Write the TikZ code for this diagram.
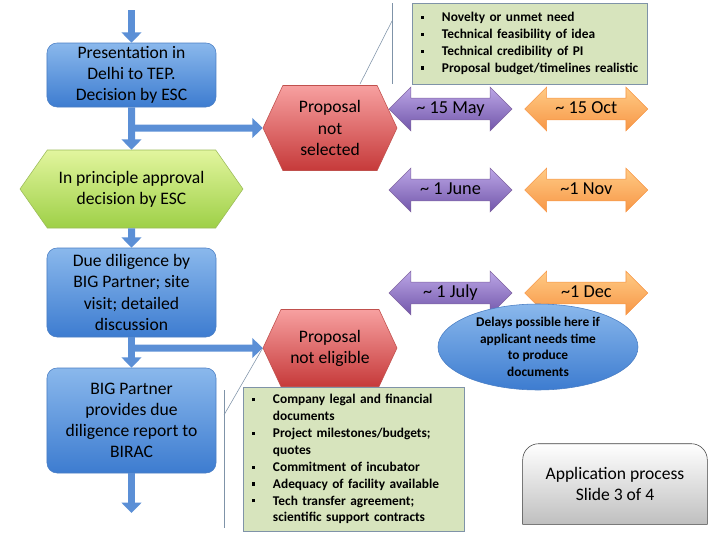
\documentclass[tikz,border=0pt]{standalone}
\usepackage{fontspec}
\setmainfont{Carlito}
\usetikzlibrary{
  arrows.meta, positioning, shapes.geometric, shapes.symbols,
  shapes.arrows, backgrounds
}
\definecolor{boxtop}{HTML}{8AB8EC}
\definecolor{boxbot}{HTML}{3D7CD0}
\definecolor{boxline}{HTML}{4A7EC4}
\definecolor{oktop}{HTML}{E2F59E}
\definecolor{okbot}{HTML}{9ED047}
\definecolor{okline}{HTML}{9BBB59}
\definecolor{notop}{HTML}{F7A0A0}
\definecolor{nobot}{HTML}{C63A3A}
\definecolor{noline}{HTML}{C0504D}
\definecolor{purtop}{HTML}{BBA6E6}
\definecolor{purbot}{HTML}{7256AA}
\definecolor{purline}{HTML}{8064A2}
\definecolor{orgtop}{HTML}{FFCB85}
\definecolor{orgbot}{HTML}{F79646}
\definecolor{notefill}{HTML}{D7E4BD}
\definecolor{noteline}{HTML}{7F93A8}
\definecolor{arrowblue}{HTML}{5B8FD6}
\newcommand\sqbul{\rule[0.2em]{2.2pt}{2.2pt}}

\begin{document}
\begin{tikzpicture}[x=0.25mm, y=-0.25mm,
    stage/.style={draw=boxline, rounded corners=2.5mm,
                  top color=boxtop, bottom color=boxbot,
                  minimum width=42.25mm, inner sep=1pt, align=center,
                  font=\fontsize{12.5}{15}\selectfont},
    hexa/.style={signal, signal to=east and west, inner sep=1pt,
                 align=center, font=\fontsize{12.5}{15}\selectfont},
    approve/.style={hexa, signal pointer angle=110, draw=okline,
                    top color=oktop, bottom color=okbot,
                    minimum width=55.75mm, minimum height=19.5mm},
    reject/.style={hexa, signal pointer angle=130, draw=noline,
                   top color=notop, bottom color=nobot,
                   minimum width=33.5mm},
    datearrow/.style={double arrow, double arrow head extend=2.75mm,
                      minimum height=30.75mm, inner xsep=1pt, inner ysep=1.25pt,
                      text height=9.5pt, text depth=3pt,
                      font=\fontsize{13}{15}\selectfont},
    early/.style={datearrow, draw=purline, top color=purtop, bottom color=purbot},
    late/.style={datearrow, draw=orgbot, top color=orgtop, bottom color=orgbot},
    note/.style={draw=noteline, fill=notefill, align=left, inner xsep=2.25mm,
                 font=\fontsize{9.5}{12}\selectfont\bfseries},
    barrow/.style={draw=arrowblue, line width=1.75mm,
                   -{Triangle[length=2.6mm, width=4.9mm]}},
    callout/.style={draw=noteline, thin}
  ]
  \useasboundingbox (0,0) rectangle (720,540);

  % main flow
  \node[stage, minimum height=16mm]    (pres)    at (131.5,75)
    {Presentation in\\Delhi to TEP.\\Decision by ESC};
  \node[approve]                       (approve) at (131.5,189)
    {In principle approval\\decision by ESC};
  \node[stage, minimum height=22.25mm] (dd)      at (131.5,292.5)
    {Due diligence by\\BIG Partner; site\\visit; detailed\\discussion};
  \node[stage, minimum height=26.25mm] (report)  at (131.5,420.5)
    {BIG Partner\\provides due\\diligence report to\\BIRAC};
  \coordinate (start)  at (131.5,10);
  \coordinate (finish) at (131.5,513);

  % rejections
  \node[reject, minimum height=21.25mm] (nsel)  at (330,128)
    {Proposal\\not\\selected};
  \node[reject, minimum height=19.25mm] (nelig) at (330,348)
    {Proposal\\not eligible};

  % timelines
  \node[early] (may)  at (450.5,109) {\textasciitilde{} 15 May};
  \node[late, right=3mm of may]  (oct) {\textasciitilde{} 15 Oct};
  \node[early] (june) at (450.5,190) {\textasciitilde{} 1 June};
  \node[late, right=3mm of june] (nov) {\textasciitilde{}1 Nov};
  \node[early] (july) at (450.5,293) {\textasciitilde{} 1 July};
  \node[late, right=3mm of july] (dec) {\textasciitilde{}1 Dec};

  \node[ellipse, draw=boxline, top color=boxtop, bottom color=boxbot,
        minimum width=50mm, minimum height=21.5mm, inner sep=-3pt,
        align=center, font=\fontsize{9.5}{11.7}\selectfont\bfseries]
    (delay) at (538,347)
    {Delays possible here if\\applicant needs time\\to produce\\documents};

  % criteria notes
  \node[note, text width=54.25mm, minimum height=20.25mm] (criteria) at (529.5,43.5)
    {\begin{tabular}{@{}p{5.25mm}@{}l@{}}
      \sqbul & Novelty or unmet need\\
      \sqbul & Technical feasibility of idea\\
      \sqbul & Technical credibility of PI\\
      \sqbul & Proposal budget/timelines realistic
    \end{tabular}};
  \node[note, text width=50.75mm, minimum height=34.75mm] (docs) at (353.5,459.5)
    {\begin{tabular}{@{}p{5.25mm}@{}l@{}}
      \sqbul & Company legal and financial\\
             & documents\\
      \sqbul & Project milestones/budgets;\\
             & quotes\\
      \sqbul & Commitment of incubator\\
      \sqbul & Adequacy of facility available\\
      \sqbul & Tech transfer agreement;\\
             & scientific support contracts
    \end{tabular}};

  \node[minimum width=46mm, minimum height=20mm, align=center,
        font=\fontsize{12.5}{15}\selectfont] (slide) at (615,484)
    {Application process\\Slide 3 of 4};
  \begin{scope}[on background layer]
    \draw[draw=black!75, top color=white, bottom color=black!25]
      (slide.south west) [rounded corners=4mm] -- (slide.north west)
      -- (slide.north east) [sharp corners] -- (slide.south east) -- cycle;
  \end{scope}

  % callout bars
  \draw[callout] (392,3) -- (392,84);
  \draw[callout] (392,21) -- (360,84);
  \draw[callout] (224,390) -- (224,528);
  \draw[callout] (224,415) -- (nelig.west);

  % connectors
  \draw[barrow] (start) -- (pres);
  \draw[barrow] (pres) -- (approve);
  \draw[barrow] (pres.south |- nsel.west) -- (nsel);
  \draw[barrow] (approve) -- (dd);
  \draw[barrow] (dd) -- (report);
  \draw[barrow] (dd.south |- nelig.west) -- (nelig);
  \draw[barrow] (report) -- (finish);
\end{tikzpicture}
\end{document}
